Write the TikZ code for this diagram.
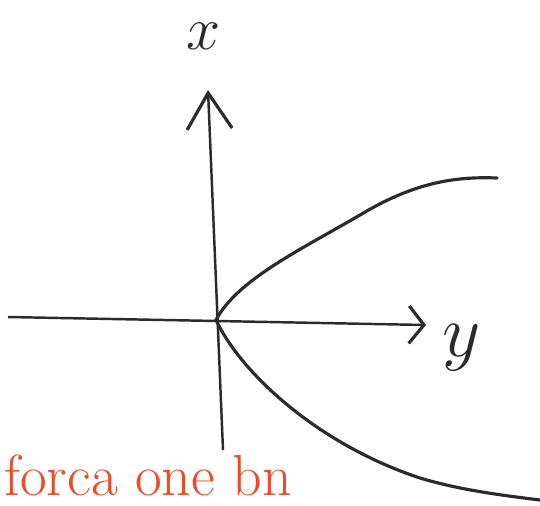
\documentclass[tikz,border=0pt]{standalone}
\usetikzlibrary{arrows.meta}
\definecolor{ink}{HTML}{2B2B2B}
\definecolor{redink}{HTML}{F04A23}
\begin{document}
\begin{tikzpicture}[x=0.02cm,y=-0.02cm]
        \useasboundingbox (0,0) rectangle (540,505);

        % 点
        \coordinate (O) at (216,320);
        \coordinate (xtop) at (208,90);
        \coordinate (xbot) at (223,450);
        \coordinate (yleft) at (8,317);
        \coordinate (yright) at (426,325);

        % 坐标轴
        \draw[ink, line width=1.4pt, -{Straight Barb[length=0.72cm, width=0.9cm, line width=1.8pt]}] (xbot) -- (xtop);
        \draw[ink, line width=1.4pt, -{Straight Barb[length=0.3cm, width=0.75cm, line width=1.8pt]}] (yleft) -- (yright);
        \node[ink, font=\Huge, scale=1.4] (xlab) at (204,36) {$x$};
        \node[ink, font=\Huge, scale=1.7] (ylab) at (462,348) {$y$};

        % 曲线
        \draw[ink, line width=1.8pt, line cap=round]
            (497,178) .. controls (450,176) and (410,185) .. (360,215)
            .. controls (300,250) and (237,280) .. (O)
            .. controls (242,375) and (320,445) .. (420,478)
            .. controls (460,490) and (500,495) .. (540,500);

        % 标注
        \node[text=redink, font=\fontsize{33}{33}\selectfont, inner sep=2pt] (note) at (148,475) {forca one bn};
    \end{tikzpicture}
\end{document}
